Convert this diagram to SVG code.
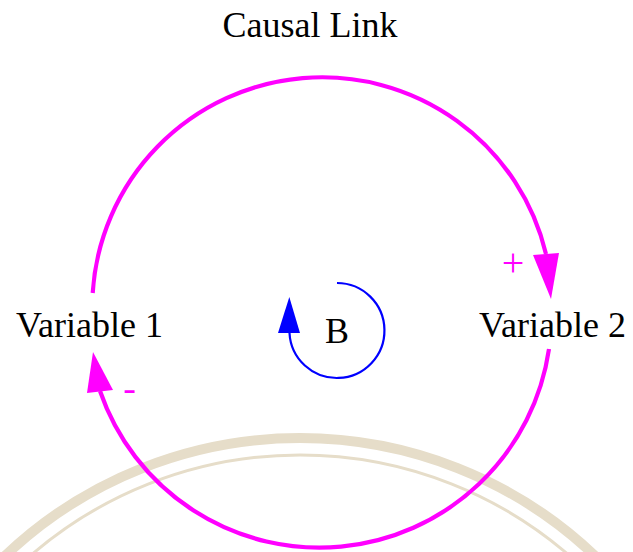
<svg xmlns="http://www.w3.org/2000/svg" width="633" height="552" viewBox="0 0 633 552">
<style>
.t{font-family:'Liberation Serif','Times New Roman','DejaVu Serif',serif;font-size:36px;fill:#000}
.link{fill:none;stroke:#ff00ff;stroke-width:4.2}
.loop{fill:none;stroke:#0000ff;stroke-width:2.2}
.wm{fill:none;stroke:#e6ddc9}
</style>
<rect width="633" height="552" fill="#fff"/>
<g id="watermark">
<circle class="wm" cx="300" cy="866" r="428" stroke-width="10"/>
<circle class="wm" cx="300" cy="866" r="411" stroke-width="3"/>
</g>
<text id="title" class="t" x="310" y="37" text-anchor="middle">Causal Link</text>
<g id="connectors">
<path class="link" d="M92.7,293 A230,230 0 0 1 546,254"/>
<polygon fill="#ff00ff" points="533,255 559,253 551,299"/>
<path class="link" d="M549,349 A232,232 0 0 1 100,391"/>
<polygon fill="#ff00ff" points="87,393 113,390 93,352"/>
<path class="loop" d="M337,283 A47.5,47.5 0 1 1 289.5,333"/>
<polygon fill="#0000ff" points="278,333 300,333 289.3,297"/>
</g>
<g id="var1"><text class="t" x="89.5" y="337" text-anchor="middle">Variable 1</text></g>
<g id="var2"><text class="t" x="552.5" y="337" text-anchor="middle">Variable 2</text></g>
<g id="loopB"><text class="t" x="337" y="343" text-anchor="middle">B</text></g>
<text class="t" x="513" y="276" text-anchor="middle" style="fill:#ff00ff;font-size:40px">+</text>
<text class="t" x="129.5" y="401" text-anchor="middle" style="fill:#ff00ff;font-size:38px">-</text>
</svg>
